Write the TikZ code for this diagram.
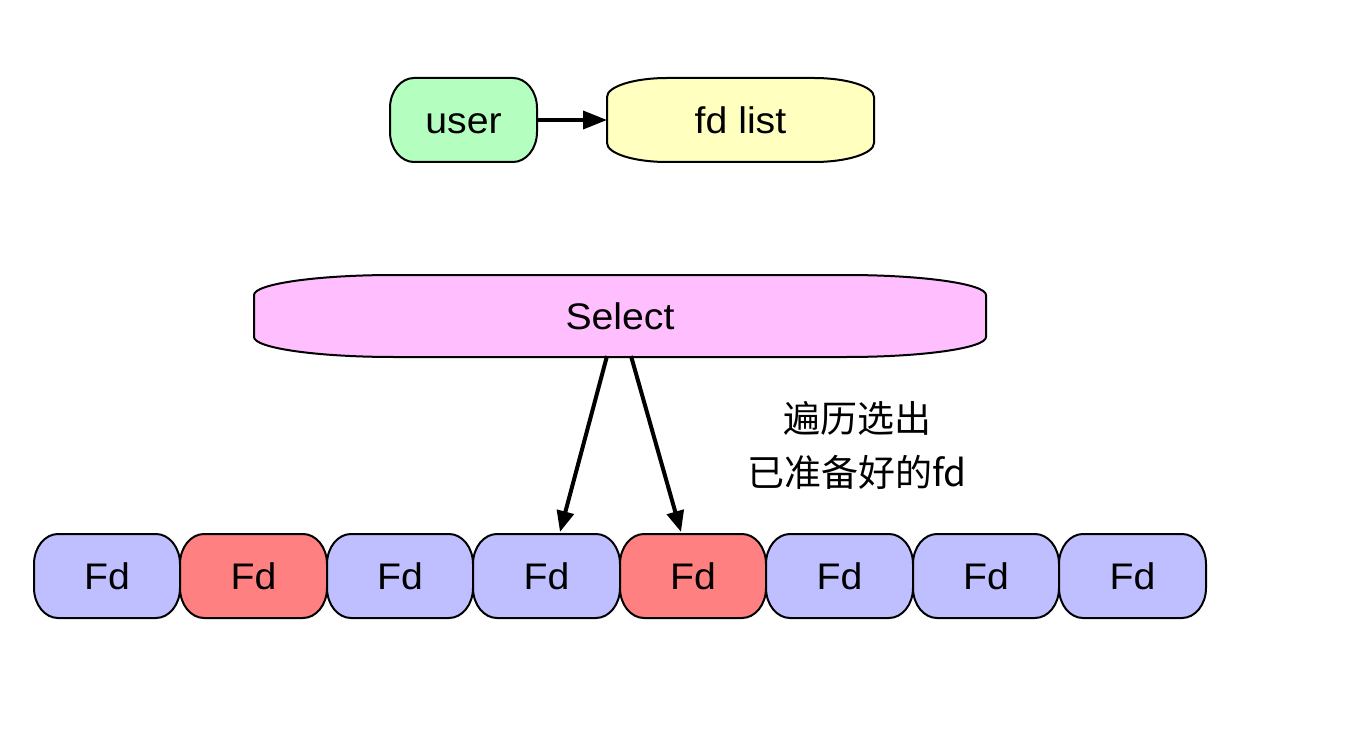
\documentclass[tikz,border=0pt]{standalone}
\usepackage{fontspec}
\setmainfont{Liberation Sans}[FakeStretch=1.06]
\newfontfamily\cjk{Noto Sans CJK SC}
\usetikzlibrary{arrows.meta,calc}
\definecolor{cuser}{RGB}{180,255,192}
\definecolor{clist}{RGB}{255,255,192}
\definecolor{csel}{RGB}{255,191,255}
\definecolor{cblue}{RGB}{191,191,255}
\definecolor{cred}{RGB}{255,128,128}
\tikzset{
  boxline/.style={draw=black, line width=2pt},
  boxtext/.style={inner sep=0pt, outer sep=0pt, text height=27pt, text depth=0pt, font=\fontsize{37}{40}\selectfont},
  conn/.style={line width=4pt, -{Triangle[length=21pt,width=17pt]}},
  connthin/.style={line width=3.5pt, -{Triangle[length=24pt,width=18pt]}},
}
\newcommand\tbox[9]{%
  \pgfmathsetmacro\bxL{#2-#4/2}\pgfmathsetmacro\bxR{#2+#4/2}%
  \pgfmathsetmacro\bxT{#3-#5/2}\pgfmathsetmacro\bxB{#3+#5/2}%
  \pgfmathsetmacro\bxa{#6}\pgfmathsetmacro\bxb{#7}%
  \path[boxline,fill=#8] ({\bxL+\bxa},{\bxT}) -- ({\bxR-\bxa},{\bxT})
    .. controls ({\bxR-0.448*\bxa},{\bxT}) and ({\bxR},{\bxT+0.448*\bxb}) .. ({\bxR},{\bxT+\bxb})
    -- ({\bxR},{\bxB-\bxb})
    .. controls ({\bxR},{\bxB-0.448*\bxb}) and ({\bxR-0.448*\bxa},{\bxB}) .. ({\bxR-\bxa},{\bxB})
    -- ({\bxL+\bxa},{\bxB})
    .. controls ({\bxL+0.448*\bxa},{\bxB}) and ({\bxL},{\bxB-0.448*\bxb}) .. ({\bxL},{\bxB-\bxb})
    -- ({\bxL},{\bxT+\bxb})
    .. controls ({\bxL},{\bxT+0.448*\bxb}) and ({\bxL+0.448*\bxa},{\bxT}) .. cycle;
  \node[boxtext, minimum width=#4pt, minimum height=#5pt] (#1) at (#2,#3) {#9};
}
\begin{document}
\begin{tikzpicture}[x=1pt,y=-1pt]
\useasboundingbox[fill=white] (0,0) rectangle (1360,730);
\tbox{user}{463.5}{120}{147}{84}{24}{30}{cuser}{user}
\tbox{fdlist}{740.5}{120}{267}{84}{60}{19}{clist}{fd list}
\tbox{sel}{620}{316}{732}{82}{140}{20}{csel}{Select}
\tbox{fda}{107}{576}{146}{84}{24}{30}{cblue}{Fd}
\tbox{fdb}{253.5}{576}{147}{84}{24}{30}{cred}{Fd}
\tbox{fdc}{400}{576}{146}{84}{24}{30}{cblue}{Fd}
\tbox{fdd}{546.5}{576}{147}{84}{24}{30}{cblue}{Fd}
\tbox{fde}{693}{576}{146}{84}{24}{30}{cred}{Fd}
\tbox{fdf}{839.5}{576}{147}{84}{24}{30}{cblue}{Fd}
\tbox{fdg}{986}{576}{146}{84}{24}{30}{cblue}{Fd}
\tbox{fdh}{1132.5}{576}{147}{84}{24}{30}{cblue}{Fd}
\draw[connthin] (user.east) -- (fdlist.west);
\draw[conn] ($(sel.south)+(-13,-1)$) -- ($(fdd.north)+(13.5,-2)$);
\draw[conn] ($(sel.south)+(11,-1)$) -- ($(fde.north)+(-12,-2)$);
\node[font=\cjk\fontsize{37}{54}\selectfont, align=center, inner sep=0pt] (note) at (857,445) {遍历选出\\已准备好的fd};
\end{tikzpicture}
\end{document}
